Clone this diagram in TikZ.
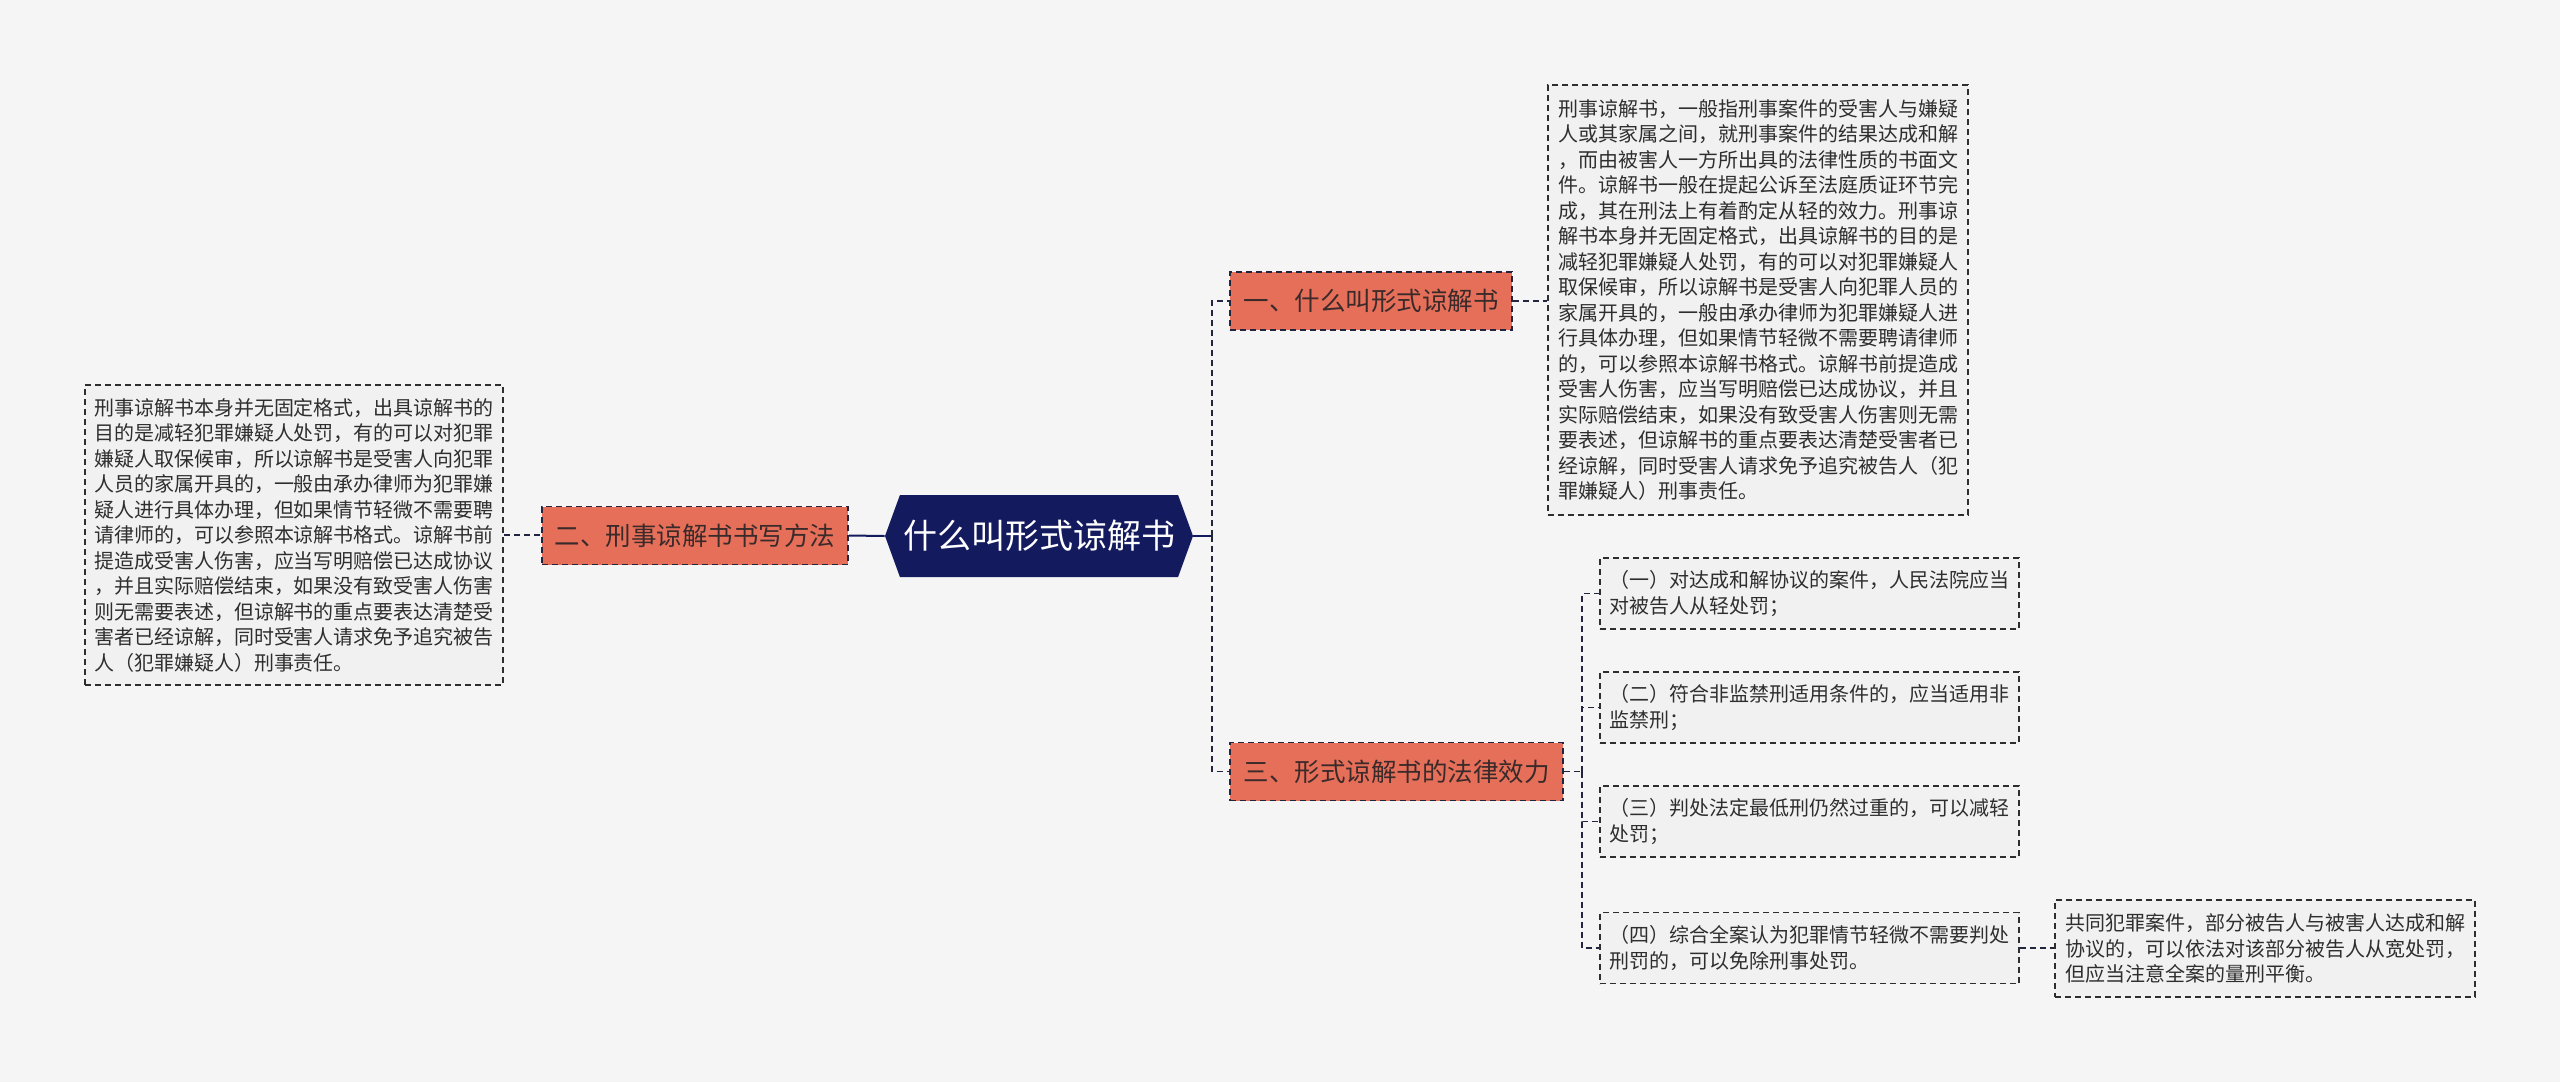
\documentclass[tikz,border=0pt]{standalone}
\usepackage{fontspec}
\newfontfamily\cjk{Noto Sans CJK SC}
\usetikzlibrary{shapes.symbols,calc}
\definecolor{bgc}{HTML}{F5F5F5}
\definecolor{navy}{HTML}{141A5E}
\definecolor{salmon}{HTML}{E66F5A}
\definecolor{darktxt}{HTML}{3A2A2A}
\definecolor{boxfill}{HTML}{F1F1F1}
\definecolor{linec}{HTML}{23253F}
\definecolor{txt}{HTML}{2E2E2E}
\tikzset{
  x=0.5pt, y=-0.5pt,
  centralbox/.style={shape=signal, signal to=east and west, signal pointer angle=140,
    fill=navy, text=white, inner sep=0pt, minimum width=154pt, minimum height=41pt,
    font=\cjk\fontsize{17pt}{20pt}\selectfont},
  branchbox/.style={draw=linec, dashed, dash pattern=on 3pt off 2pt, line width=0.9pt,
    fill=salmon, text=darktxt, inner sep=0pt, minimum height=29pt,
    font=\cjk\fontsize{12.75pt}{15pt}\selectfont},
  textbox/.style={draw=txt, dash pattern=on 3pt off 2pt, line width=0.8pt,
    fill=boxfill, text=txt, inner sep=0pt, align=left, text width=200pt,
    font=\cjk\fontsize{10pt}{12.75pt}\selectfont},
  solidconn/.style={draw=navy, line width=1pt},
  dashconn/.style={draw=linec, line width=0.9pt, dash pattern=on 3pt off 2pt},
}
\begin{document}
\begin{tikzpicture}
\path[fill=bgc] (0,0) rectangle (2560,1082);
\useasboundingbox (0,0) rectangle (2560,1082);

\node[centralbox] (c) at (1039,536) {什么叫形式谅解书};

\node[branchbox, minimum width=141pt] (b1) at (1371,301) {一、什么叫形式谅解书};
\node[branchbox, minimum width=153pt] (b2) at (695,535.5) {二、刑事谅解书书写方法};
\node[branchbox, minimum width=166.5pt] (b3) at (1396.5,771.5) {三、形式谅解书的法律效力};

\node[textbox, minimum width=210pt, minimum height=215pt] (t1) at (1758,300) {刑事谅解书，一般指刑事案件的受害人与嫌疑\\人或其家属之间，就刑事案件的结果达成和解\\，而由被害人一方所出具的法律性质的书面文\\件。谅解书一般在提起公诉至法庭质证环节完\\成，其在刑法上有着酌定从轻的效力。刑事谅\\解书本身并无固定格式，出具谅解书的目的是\\减轻犯罪嫌疑人处罚，有的可以对犯罪嫌疑人\\取保候审，所以谅解书是受害人向犯罪人员的\\家属开具的，一般由承办律师为犯罪嫌疑人进\\行具体办理，但如果情节轻微不需要聘请律师\\的，可以参照本谅解书格式。谅解书前提造成\\受害人伤害，应当写明赔偿已达成协议，并且\\实际赔偿结束，如果没有致受害人伤害则无需\\要表述，但谅解书的重点要表达清楚受害者已\\经谅解，同时受害人请求免予追究被告人（犯\\罪嫌疑人）刑事责任。};

\node[textbox, minimum width=209pt, minimum height=150pt] (t2) at (294,535) {刑事谅解书本身并无固定格式，出具谅解书的\\目的是减轻犯罪嫌疑人处罚，有的可以对犯罪\\嫌疑人取保候审，所以谅解书是受害人向犯罪\\人员的家属开具的，一般由承办律师为犯罪嫌\\疑人进行具体办理，但如果情节轻微不需要聘\\请律师的，可以参照本谅解书格式。谅解书前\\提造成受害人伤害，应当写明赔偿已达成协议\\，并且实际赔偿结束，如果没有致受害人伤害\\则无需要表述，但谅解书的重点要表达清楚受\\害者已经谅解，同时受害人请求免予追究被告\\人（犯罪嫌疑人）刑事责任。};

\node[textbox, minimum width=209.5pt, minimum height=35.5pt] (k1) at (1809.5,593.5) {（一）对达成和解协议的案件，人民法院应当\\对被告人从轻处罚；};
\node[textbox, minimum width=209.5pt, minimum height=35.5pt] (k2) at (1809.5,707.5) {（二）符合非监禁刑适用条件的，应当适用非\\监禁刑；};
\node[textbox, minimum width=209.5pt, minimum height=35.5pt] (k3) at (1809.5,821.5) {（三）判处法定最低刑仍然过重的，可以减轻\\处罚；};
\node[textbox, minimum width=209.5pt, minimum height=35.5pt] (k4) at (1809.5,948) {（四）综合全案认为犯罪情节轻微不需要判处\\刑罚的，可以免除刑事处罚。};

\node[textbox, minimum width=210pt, minimum height=48.5pt] (t4) at (2265,948.5) {共同犯罪案件，部分被告人与被害人达成和解\\协议的，可以依法对该部分被告人从宽处罚，\\但应当注意全案的量刑平衡。};

% connectors
\draw[solidconn] (b2.east) -- (c.west);
\coordinate (j1) at (1212,536);
\draw[solidconn] (c.east) -- (j1);
\draw[dashconn] (j1) |- (b1.west);
\draw[dashconn] (j1) |- (b3.west);
\draw[dashconn] (b1.east) -- (b1.east -| t1.west);
\draw[dashconn] (t2.east) -- (t2.east -| b2.west);
\coordinate (j3) at (1582,771.5);
\draw[dashconn] (b3.east) -- (j3);
\draw[dashconn] (j3) |- (k1.west);
\draw[dashconn] (j3) |- (k2.west);
\draw[dashconn] (j3) |- (k3.west);
\draw[dashconn] (j3) |- (k4.west);
\draw[dashconn] (k4.east) -- (k4.east -| t4.west);
\end{tikzpicture}
\end{document}
